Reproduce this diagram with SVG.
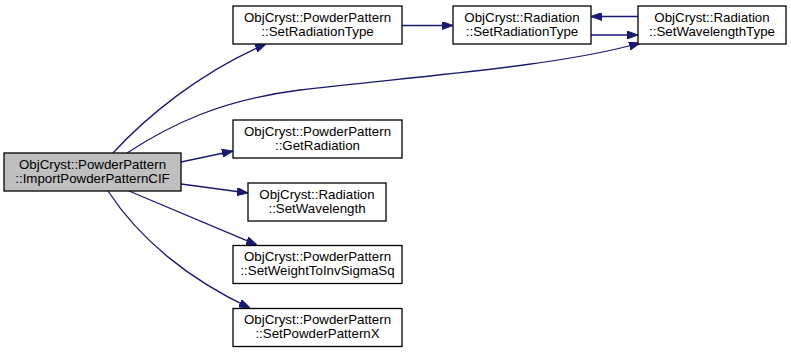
<svg xmlns="http://www.w3.org/2000/svg" width="791" height="352" viewBox="0 0 791 352">
  <defs>
    <marker id="arrow" markerWidth="11" markerHeight="8" refX="11" refY="4" orient="auto" markerUnits="userSpaceOnUse">
      <path d="M0,0 L11,4 L0,8 z" fill="#191970" stroke="#191970" stroke-width="1"/>
    </marker>
  </defs>
  <style>
    .node rect { fill: #ffffff; stroke: #000000; stroke-width: 1.3; }
    .node.current rect { fill: #bfbfbf; }
    .node text { font-family: "Liberation Sans", Arial, Helvetica, sans-serif; font-size: 13.3px; fill: #000000; text-anchor: middle; }
    .edges path { fill: none; stroke: #191970; stroke-width: 1.3; marker-end: url(#arrow); }
  </style>
  <rect width="791" height="352" fill="#ffffff"/>

  <g class="edges" id="edges">
    <!-- ImportPowderPatternCIF -> PowderPattern::SetRadiationType -->
    <path d="M113,153 C145,118 200,72 266,44"/>
    <!-- ImportPowderPatternCIF -> Radiation::SetWavelengthType -->
    <path d="M127,153 C170,125 220,100 300,90 C420,76 560,66 640,43"/>
    <!-- PowderPattern::SetRadiationType -> Radiation::SetRadiationType -->
    <path d="M402,25.5 L453,25.5"/>
    <!-- Radiation::SetRadiationType -> Radiation::SetWavelengthType -->
    <path d="M591,35 L638,35"/>
    <!-- Radiation::SetWavelengthType -> Radiation::SetRadiationType -->
    <path d="M638,16.5 L591,16.5"/>
    <!-- ImportPowderPatternCIF -> PowderPattern::GetRadiation -->
    <path d="M181,162 L233,151"/>
    <!-- ImportPowderPatternCIF -> Radiation::SetWavelength -->
    <path d="M181,184 L248,193"/>
    <!-- ImportPowderPatternCIF -> PowderPattern::SetWeightToInvSigmaSq -->
    <path d="M129,191 L257,245"/>
    <!-- ImportPowderPatternCIF -> PowderPattern::SetPowderPatternX -->
    <path d="M108,191 C140,240 190,280 250,308"/>
  </g>

  <g class="node current" id="node_import">
    <rect x="4" y="153" width="177" height="38"/>
    <text x="92.5" y="168.5">ObjCryst::PowderPattern</text>
    <text x="92.5" y="182.5">::ImportPowderPatternCIF</text>
  </g>
  <g class="node" id="node_pp_setradiationtype">
    <rect x="233" y="6" width="169" height="38"/>
    <text x="317.5" y="21.5">ObjCryst::PowderPattern</text>
    <text x="317.5" y="35.5">::SetRadiationType</text>
  </g>
  <g class="node" id="node_rad_setradiationtype">
    <rect x="453" y="6" width="138" height="38"/>
    <text x="522" y="21.5">ObjCryst::Radiation</text>
    <text x="522" y="35.5">::SetRadiationType</text>
  </g>
  <g class="node" id="node_rad_setwavelengthtype">
    <rect x="638" y="6" width="148" height="38"/>
    <text x="712" y="21.5">ObjCryst::Radiation</text>
    <text x="712" y="35.5">::SetWavelengthType</text>
  </g>
  <g class="node" id="node_pp_getradiation">
    <rect x="233" y="120" width="169" height="38"/>
    <text x="317.5" y="135.5">ObjCryst::PowderPattern</text>
    <text x="317.5" y="149.5">::GetRadiation</text>
  </g>
  <g class="node" id="node_rad_setwavelength">
    <rect x="248" y="183" width="138" height="38"/>
    <text x="317" y="198.5">ObjCryst::Radiation</text>
    <text x="317" y="212.5">::SetWavelength</text>
  </g>
  <g class="node" id="node_pp_setweight">
    <rect x="233" y="245.5" width="169" height="38"/>
    <text x="317.5" y="261">ObjCryst::PowderPattern</text>
    <text x="317.5" y="275">::SetWeightToInvSigmaSq</text>
  </g>
  <g class="node" id="node_pp_setpowderpatternx">
    <rect x="233" y="308.5" width="169" height="38"/>
    <text x="317.5" y="324">ObjCryst::PowderPattern</text>
    <text x="317.5" y="338">::SetPowderPatternX</text>
  </g>
</svg>
